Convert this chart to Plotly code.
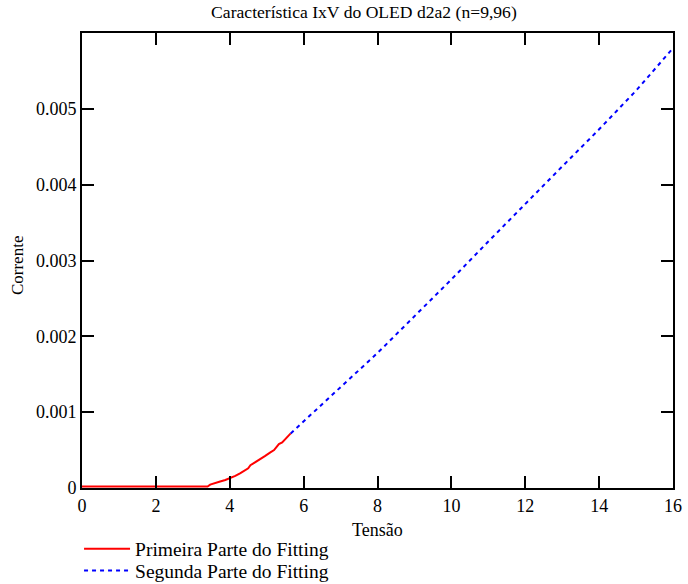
import plotly.graph_objects as go

# Measured part of the I-V curve (voltage in V, current in A)
tensao_1 = [0.0, 0.5, 1.0, 1.5, 2.0, 2.5, 3.0, 3.4, 3.47, 3.6, 3.74, 3.88, 4.01, 4.15,
            4.29, 4.42, 4.5, 4.56, 4.7, 4.83, 4.95, 5.1, 5.2, 5.28, 5.33, 5.42, 5.51, 5.6, 5.65]
corrente_1 = [0.00002, 0.00002, 0.00002, 0.00002, 0.00002, 0.00002, 0.00002, 0.00002,
              0.000045, 0.00006, 0.000085, 0.000105, 0.00013, 0.00016, 0.000195, 0.00023,
              0.00026, 0.0003, 0.00034, 0.000385, 0.00042, 0.00047, 0.0005, 0.00055,
              0.00058, 0.0006, 0.00065, 0.00069, 0.00072]

# Fitted continuation
tensao_2 = [5.65, 6, 7, 8, 9, 10, 11, 12, 13, 14, 15, 16]
corrente_2 = [0.00072, 0.00088, 0.00133, 0.00178, 0.00226, 0.00275, 0.00325, 0.00375,
              0.00424, 0.00473, 0.00524, 0.0058]

x_ticks = [0, 2, 4, 6, 8, 10, 12, 14, 16]
y_ticks = [0, 0.001, 0.002, 0.003, 0.004, 0.005]
y_tick_text = ["0", "0.001", "0.002", "0.003", "0.004", "0.005"]

serif = "Liberation Serif, Times New Roman, serif"

fig = go.Figure()
fig.add_trace(go.Scatter(
    x=tensao_1, y=corrente_1, mode="lines",
    name="Primeira Parte do Fitting",
    line=dict(color="#ff0000", width=2),
    legend="legend",
))
fig.add_trace(go.Scatter(
    x=tensao_2, y=corrente_2, mode="lines",
    name="Segunda Parte do Fitting",
    line=dict(color="#0000ff", width=2, dash="4px,4px"),
    legend="legend2",
))

axis_common = dict(
    showgrid=False, zeroline=False,
    showline=True, linecolor="black", linewidth=2, mirror="ticks",
    ticks="inside", ticklen=12, tickwidth=2, tickcolor="black",
    tickfont=dict(family=serif, size=18, color="black"),
)

legend_common = dict(
    xref="paper", yref="paper", x=-0.005, xanchor="left", yanchor="middle",
    bgcolor="rgba(0,0,0,0)", font=dict(family=serif, size=19.5, color="black"),
    itemwidth=46,
)

fig.update_layout(
    width=688, height=584,
    margin=dict(l=82, r=15, t=33, b=96, autoexpand=False),
    paper_bgcolor="white", plot_bgcolor="white",
    title=dict(text="Característica IxV do OLED d2a2 (n=9,96)",
               xref="container", x=0.529, xanchor="center",
               yref="container", y=0.979, yanchor="middle",
               font=dict(family=serif, size=17.6, color="black")),
    xaxis=dict(range=[0, 16], tickvals=x_ticks, ticktext=[str(v) for v in x_ticks],
               **axis_common),
    yaxis=dict(range=[0, 0.006], tickvals=y_ticks, ticktext=y_tick_text,
               **axis_common),
    showlegend=True,
    legend=dict(y=-0.134, **legend_common),
    legend2=dict(y=-0.182, **legend_common),
    annotations=[
        dict(text="Tensão", xref="paper", yref="paper", x=0.5, y=-0.093,
             xanchor="center", yanchor="middle", showarrow=False,
             font=dict(family=serif, size=18, color="black")),
        dict(text="Corrente", xref="paper", yref="paper", x=-0.11, y=0.49,
             xanchor="center", yanchor="middle", showarrow=False, textangle=-90,
             font=dict(family=serif, size=17, color="black")),
    ],
)

fig.write_html("out.html")
